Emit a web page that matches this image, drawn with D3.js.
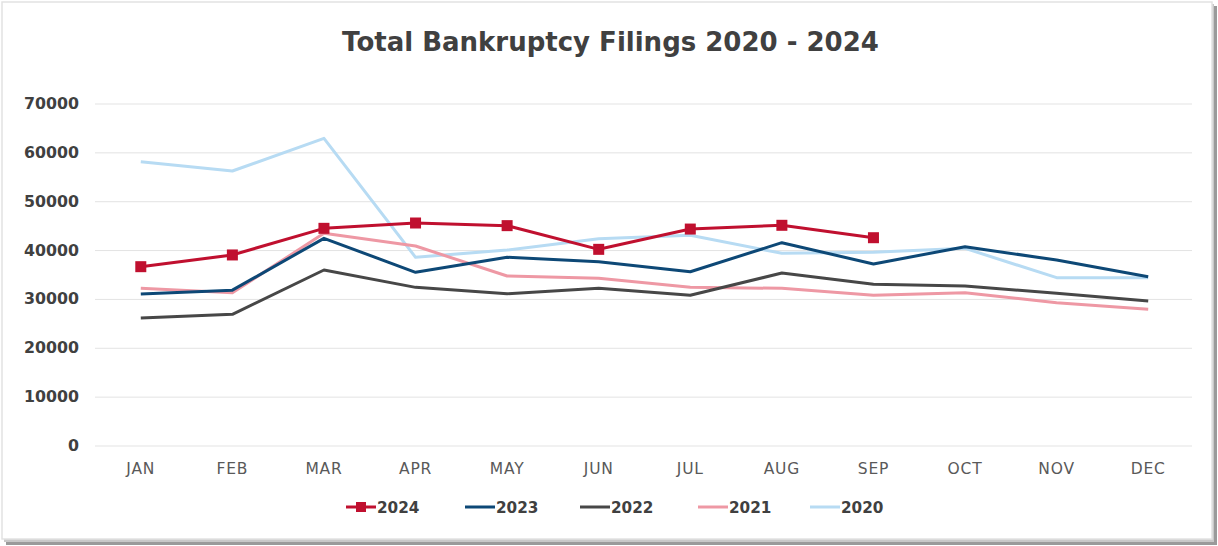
<!DOCTYPE html>
<html><head><meta charset="utf-8">
<script src="https://cdn.jsdelivr.net/npm/d3@7"></script>
<style>html,body{margin:0;padding:0;background:#fff;}svg{display:block;}</style>
</head><body>
<svg id="c" width="1218" height="546"></svg>
<script>
const months = ["JAN","FEB","MAR","APR","MAY","JUN","JUL","AUG","SEP","OCT","NOV","DEC"];
const yTicks = [0,10000,20000,30000,40000,50000,60000,70000];
const years = ["2024","2023","2022","2021","2020"];
const s2024 = [36600,39000,44450,45540,45000,40150,44300,45070,42530];
const s2023 = [31000,31800,42400,35450,38520,37620,35570,41510,37150,40690,37960,34550];
const s2022 = [26100,26850,35920,32370,31070,32170,30740,35300,32990,32640,31140,29570];
const s2021 = [32170,31280,43430,40830,34690,34220,32370,32170,30740,31280,29230,27880];
const s2020 = [58080,56180,62870,38520,40000,42330,43020,39330,39540,40350,34350,34350];
const colors = ["#C0102F","#0D4876","#474747","#EE98A4","#B7DBF3"];
const seriesVals = [s2024,s2023,s2022,s2021,s2020];

const svg = d3.select("#c");
svg.append("rect").attr("x",6).attr("y",6).attr("width",1211).attr("height",539).attr("fill","#9a9a9a");
svg.append("rect").attr("x",4).attr("y",4).attr("width",1210).attr("height",538).attr("fill","#c8c8c8");
svg.append("rect").attr("x",2).attr("y",2).attr("width",1210).attr("height",537).attr("fill","#fff").attr("stroke","#e2e2e2").attr("stroke-width",1.5);

const bold = "'DejaVu Sans', 'Open Sans', sans-serif";
const reg = "'DejaVu Sans', 'Open Sans', sans-serif";

function fitSize(txt, weight, base, target){
  const t = svg.append("text").attr("font-family",bold).attr("font-weight",weight).attr("font-size",base).text(txt);
  const w = t.node().getComputedTextLength();
  t.remove();
  return base*target/w;
}

const titleSize = Math.min(27, fitSize("Total Bankruptcy Filings 2020 - 2024",700,24,537));
svg.append("text").attr("x",610.5).attr("y",51).attr("text-anchor","middle")
  .attr("font-family",bold).attr("font-weight",700).attr("font-size",titleSize).attr("fill","#404040")
  .text("Total Bankruptcy Filings 2020 - 2024");

const x = d3.scaleBand().domain(months).range([95,1194]);
const y = d3.scaleLinear().domain([0,70000]).range([445.5,103.5]);

const tickSize = Math.min(17, fitSize("70000",700,15,55));
const gy = svg.append("g").attr("transform","translate(95,0)")
  .call(d3.axisLeft(y).tickValues(yTicks).tickSize(-1097).tickFormat(d3.format("d")).tickPadding(16));
gy.select(".domain").remove();
gy.selectAll(".tick line").attr("stroke","#e3e3e3").attr("stroke-width",1);
gy.selectAll(".tick text").attr("font-family",bold).attr("font-weight",700).attr("font-size",tickSize).attr("fill","#404040");

const gx = svg.append("g").attr("transform","translate(0,445.5)")
  .call(d3.axisBottom(x).tickSize(0).tickPadding(17));
gx.select(".domain").remove();
gx.selectAll(".tick text").attr("font-family",reg).attr("font-size",15.5).attr("letter-spacing",0.8).attr("fill","#595959");

const line = d3.line().x((d,i)=>x(months[i])+x.bandwidth()/2).y(d=>y(d));
for (let k=seriesVals.length-1;k>=0;k--){
  svg.append("path").datum(seriesVals[k]).attr("d",line).attr("fill","none")
    .attr("stroke",colors[k]).attr("stroke-width",3).attr("stroke-linejoin","round");
}
svg.append("g").selectAll("rect").data(s2024).join("rect")
  .attr("x",(d,i)=>x(months[i])+x.bandwidth()/2-5.5).attr("y",d=>y(d)-5.5)
  .attr("width",11).attr("height",11).attr("fill",colors[0]);

const legSize = Math.min(17, fitSize("2024",700,15,42.5));
const legX = [346,465,580,698,810];
const lg = svg.append("g");
years.forEach((yr,i)=>{
  const g = lg.append("g").attr("transform",`translate(${legX[i]},507)`);
  g.append("line").attr("x1",0).attr("x2",30).attr("y1",0).attr("y2",0).attr("stroke",colors[i]).attr("stroke-width",3);
  if(i===0) g.append("rect").attr("x",10).attr("y",-5).attr("width",10).attr("height",10).attr("fill",colors[0]);
  g.append("text").attr("x",31).attr("y",5.5).attr("font-family",bold).attr("font-weight",700).attr("font-size",legSize).attr("fill","#404040").text(yr);
});
</script>
</body></html>
